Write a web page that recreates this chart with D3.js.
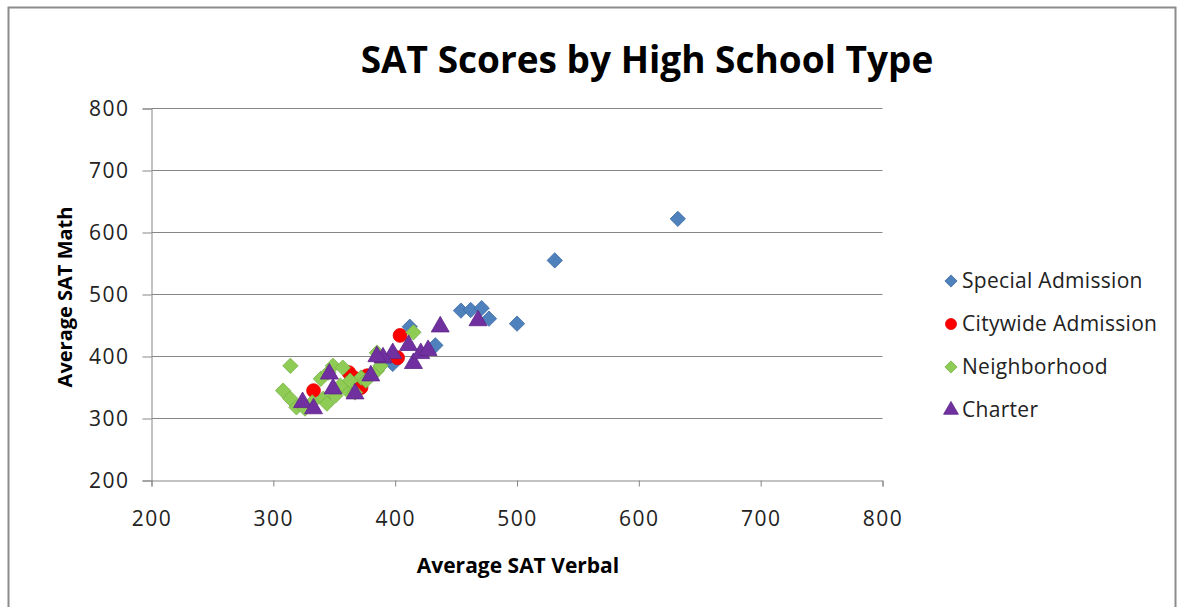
<!DOCTYPE html>
<html>
<head>
<meta charset="utf-8">
<script src="https://cdn.jsdelivr.net/npm/d3@7"></script>
<style>
  body { margin: 0; background: #fff; }
  svg { font-family: "Open Sans", Lato, sans-serif; }
</style>
</head>
<body>
<svg width="1184" height="607"></svg>
<script>
// values: [verbal, math]
const specialAdmission = [
  [632, 622], [531, 555], [454, 474], [462, 475], [471, 478], [477, 461],
  [500, 453], [412, 448], [433, 418], [398, 388]
];
const citywideAdmission = [
  [404, 434], [402, 398], [377, 369], [372, 350], [362, 374], [333, 345], [366, 366]
];
const neighborhood = [
  [314, 385], [349, 385], [308, 345], [314, 332], [319, 318], [326, 316],
  [339, 364], [341, 332], [344, 324], [345, 374], [355, 350], [361, 345],
  [357, 382], [355, 353], [367, 342], [372, 366], [385, 377], [385, 406],
  [415, 439], [388, 385], [332, 326], [351, 337], [363, 361], [376, 361]
];
const charter = [
  [437, 448], [468, 458], [411, 418], [398, 405], [390, 398], [385, 400],
  [415, 389], [421, 405], [427, 410], [380, 369], [367, 340], [346, 372],
  [349, 348], [324, 326], [333, 316]
];

const seriesNames = ["Special Admission", "Citywide Admission", "Neighborhood", "Charter"];
const seriesData = [specialAdmission, citywideAdmission, neighborhood, charter];
const ticks = [200, 300, 400, 500, 600, 700, 800];

const style = {
  "Special Admission": { shape: d3.symbolDiamond2, fill: "#4F81BD", stroke: "#3B6AA3", size: 150 },
  "Citywide Admission": { shape: d3.symbolCircle, fill: "#FF0000", stroke: "#E00000", size: 150 },
  "Neighborhood": { shape: d3.symbolDiamond2, fill: "#8FCC55", stroke: "#76B042", size: 150 },
  "Charter": { shape: d3.symbolTriangle, fill: "#7030A0", stroke: "#5E2688", size: 140 }
};

const svg = d3.select("svg");

// outer frame
svg.append("rect")
  .attr("x", 8.5).attr("y", 7.5)
  .attr("width", 1167).attr("height", 620)
  .attr("fill", "none").attr("stroke", "#8c8c8c").attr("stroke-width", 2);

const x = d3.scaleLinear().domain([200, 800]).range([151.5, 882.5]);
const y = d3.scaleLinear().domain([200, 800]).range([480.5, 108.5]);

// horizontal gridlines
svg.append("g")
  .selectAll("line")
  .data(ticks.slice(1))
  .join("line")
  .attr("x1", x(200)).attr("x2", x(800))
  .attr("y1", d => y(d)).attr("y2", d => y(d))
  .attr("stroke", "#868686");

const xAxis = svg.append("g")
  .attr("transform", `translate(0,${y(200)})`)
  .call(d3.axisBottom(x).tickValues(ticks).tickSize(6).tickPadding(25));
const yAxis = svg.append("g")
  .attr("transform", `translate(${x(200)},0)`)
  .call(d3.axisLeft(y).tickValues(ticks).tickSize(9).tickPadding(22));

[xAxis, yAxis].forEach(a => {
  a.select(".domain").attr("stroke", "#868686");
  a.selectAll(".tick line").attr("stroke", "#868686");
  a.selectAll(".tick text")
    .attr("fill", "#222")
    .style("font-size", "21px")
    .style("letter-spacing", "1.5px")
    .style("font-family", "'Open Sans', sans-serif");
});
yAxis.selectAll(".tick text").attr("x", -22);

// title and axis titles
svg.append("text")
  .attr("x", 647).attr("y", 73)
  .attr("text-anchor", "middle")
  .style("font-size", "37px").style("font-weight", "bold")
  .text("SAT Scores by High School Type");

svg.append("text")
  .attr("x", 518).attr("y", 573)
  .attr("text-anchor", "middle")
  .style("font-size", "21px").style("font-weight", "bold")
  .text("Average SAT Verbal");

svg.append("text")
  .attr("transform", "translate(72,297) rotate(-90)")
  .attr("text-anchor", "middle")
  .style("font-size", "20px").style("font-weight", "bold")
  .text("Average SAT Math");

// points
seriesNames.forEach((name, i) => {
  const s = style[name];
  svg.append("g")
    .selectAll("path")
    .data(seriesData[i])
    .join("path")
    .attr("d", d3.symbol(s.shape, s.size))
    .attr("transform", d => `translate(${x(d[0])},${y(d[1])})`)
    .attr("fill", s.fill)
    .attr("stroke", s.stroke)
    .attr("stroke-width", 0.8);
});

// legend
const legend = svg.append("g")
  .selectAll("g")
  .data(seriesNames)
  .join("g")
  .attr("transform", (d, i) => `translate(951,${281 + i * 43})`);

legend.append("path")
  .attr("d", d => d3.symbol(style[d].shape, 95)())
  .attr("fill", d => style[d].fill)
  .attr("stroke", d => style[d].stroke)
  .attr("stroke-width", 0.8);

legend.append("text")
  .attr("x", 11).attr("dy", "0.35em")
  .style("font-size", "21px")
  .style("letter-spacing", "0.3px")
  .attr("fill", "#222")
  .text(d => d);
</script>
</body>
</html>
